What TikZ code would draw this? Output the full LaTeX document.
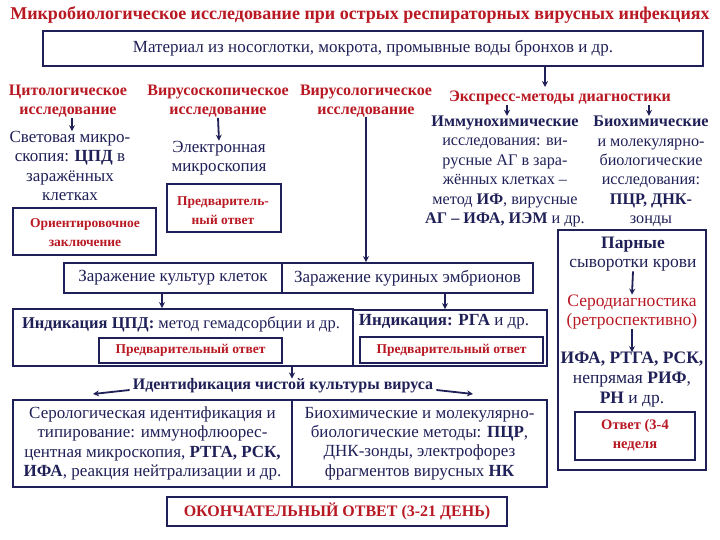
\documentclass[tikz,border=0pt]{standalone}
\usepackage{fontspec}
\setmainfont{Liberation Serif}
\usetikzlibrary{arrows.meta,calc}
\definecolor{navy}{RGB}{32,32,88}
\definecolor{rd}{RGB}{185,25,35}
\begin{document}
\begin{tikzpicture}[x=1pt,y=-1pt,
  bx/.style={draw=navy,line width=1.8pt,inner sep=0pt},
  tx/.style={text=navy,align=center,inner sep=0pt,font=\fontsize{17}{19.3}\selectfont},
  rt/.style={text=rd,align=center,inner sep=0pt,font=\bfseries\fontsize{16}{19}\selectfont},
  sr/.style={text=rd,align=center,inner sep=0pt,font=\bfseries\fontsize{13.5}{19}\selectfont},
  arr/.style={draw=navy,line width=1.8pt,-{Stealth[length=6pt,width=6pt]}},
]
\useasboundingbox (0,0) rectangle (720,540);
\fill[white] (0,0) rectangle (720,540);
% title
\node[text=rd,inner sep=0pt,font=\bfseries\fontsize{18}{20}\selectfont] (title) at (360,15) {Микробиологическое исследование при острых респираторных вирусных инфекциях};
% material
\node[bx,tx,minimum width=660,minimum height=35] (mat) at (373,48.5) {Материал из носоглотки, мокрота, промывные воды бронхов и др.};
% column headers
\node[rt] (cyt) at (68,101.5) {Цитологическое\\исследование};
\node[rt] (vsc) at (218,101.5) {Вирусоскопическое\\исследование};
\node[rt] (vlg) at (366,101) {Вирусологическое\\исследование};
\node[rt] (expr) at (560,98) {Экспресс-методы диагностики};
\coordinate (e1) at (545,87);
\draw[arr] (mat.south -| e1) -- (e1);
% cytology
\node[tx] (light) at (70,166) {Световая микро-\\скопия: \textbf{ЦПД} в\\заражённых\\клетках};
\coordinate (c1) at (72,0);
\draw[arr] (cyt.south -| c1) -- (light.north -| c1);
\node[bx,minimum width=143,minimum height=47] (orient) at (84.5,231.5) {};
\node[sr] (orientt) at (85,232.5) {Ориентировочное\\заключение};
% virusoscopy
\node[tx] (elec) at (219,158) {Электронная\\микроскопия};
\draw[arr] (vsc.south) -- (elec.north);
\node[bx,minimum width=114,minimum height=48] (pre1) at (224,208) {};
\node[sr] (pre1t) at (223,211) {Предваритель-\\ный ответ};
% express methods
\node[tx,font=\fontsize{16.2}{19.4}\selectfont] (imm) at (505,171.5) {\textbf{Иммунохимические}\\исследования: ви-\\русные АГ в зара-\\жённых клетках –\\метод \textbf{ИФ}, вирусные\\\textbf{АГ – ИФА, ИЭМ} и др.};
\node[tx,font=\fontsize{16.2}{19.4}\selectfont] (bio) at (651,171.5) {\textbf{Биохимические}\\и молекулярно-\\биологические\\исследования:\\\textbf{ПЦР, ДНК-}\\зонды};
\coordinate (e2) at (507,0);
\coordinate (e3) at (649,0);
\draw[arr] (expr.south -| e2) -- (imm.north -| e2);
\draw[arr] (expr.south -| e3) -- (bio.north -| e3);
% paired sera
\node[bx,minimum width=148,minimum height=240] (pr) at (632,350) {};
\node[tx,font=\fontsize{17.5}{19}\selectfont] (par) at (633,254) {\textbf{Парные}\\сыворотки крови};
\node[tx,text=rd,font=\fontsize{17.5}{19}\selectfont] (sero) at (632,312) {Серодиагностика\\(ретроспективно)};
\node[tx,font=\fontsize{17.5}{20}\selectfont] (ifa) at (632,380) {\textbf{ИФА, РТГА, РСК,}\\непрямая \textbf{РИФ},\\\textbf{РН} и др.};
\draw[arr] (par.south) -- (sero.north);
\draw[arr] (sero.south) -- (ifa.north);
\node[bx,minimum width=120,minimum height=48] (ans) at (635,436) {};
\node[sr,font=\bfseries\fontsize{14.5}{19}\selectfont] (anst) at (635,435) {Ответ (3-4\\неделя};
% infection row
\node[bx,tx,minimum width=218,minimum height=30] (zarA) at (173,278) {Заражение культур клеток};
\node[bx,tx,minimum width=251,minimum height=30] (zarB) at (407.5,278) {Заражение куриных эмбрионов};
\draw[arr] (vlg.south) -- (vlg.south |- zarB.north);
% indication row
\node[bx,minimum width=340,minimum height=57] (indA) at (183,337.5) {};
\node[bx,minimum width=194,minimum height=56] (indB) at (450,338) {};
\node[tx,font=\fontsize{16.5}{19}\selectfont] (indAt) at (181,324) {\textbf{Индикация ЦПД:} метод гемадсорбции и др.};
\node[tx] (indBt) at (444,322) {\textbf{Индикация: РГА} и др.};
\node[bx,sr,minimum width=183,minimum height=25] (pA) at (190.5,350.5) {Предварительный ответ};
\node[bx,sr,minimum width=183,minimum height=26] (pB) at (451.5,350) {Предварительный ответ};
\coordinate (a1) at (162,0);
\coordinate (a2) at (445,0);
\draw[arr] (zarA.south -| a1) -- (indA.north -| a1);
\draw[arr] (zarB.south -| a2) -- (indB.north -| a2);
% identification
\node[tx,font=\bfseries\fontsize{16}{19}\selectfont] (ident) at (283,386) {Идентификация чистой культуры вируса};
\coordinate (a3) at (292,0);
\draw[arr] (indA.south -| a3) -- (ident.north -| a3);
\coordinate (l1) at (93,394);
\coordinate (r1) at (473,394);
\draw[arr] ($(ident.west)+(-3,4)$) -- (l1);
\draw[arr] ($(ident.east)+(3,4)$) -- (r1);
% bottom row
\node[bx,tx,minimum width=279,minimum height=87] (serA) at (152.5,443.5) {Серологическая идентификация и\\типирование: иммунофлюорес-\\центная микроскопия, \textbf{РТГА, РСК,}\\\textbf{ИФА}, реакция нейтрализации и др.};
\node[bx,tx,minimum width=255,minimum height=87] (serB) at (419.5,443.5) {Биохимические и молекулярно-\\биологические методы: \textbf{ПЦР},\\ДНК-зонды, электрофорез\\фрагментов вирусных \textbf{НК}};
% final
\node[bx,rt,minimum width=340,minimum height=29] (fin) at (337,511.5) {ОКОНЧАТЕЛЬНЫЙ ОТВЕТ (3-21 ДЕНЬ)};
\end{tikzpicture}
\end{document}
